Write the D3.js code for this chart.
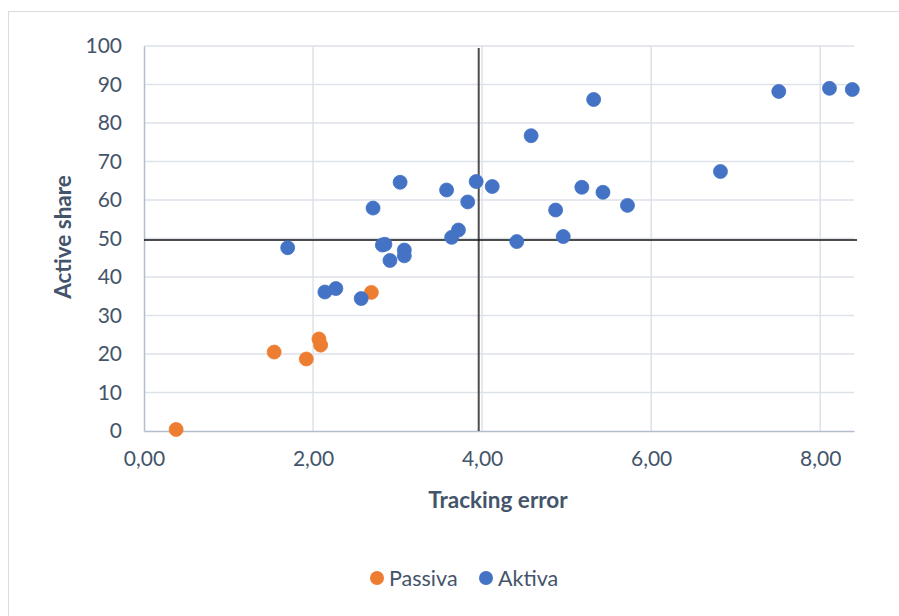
<!DOCTYPE html>
<html>
<head>
<meta charset="utf-8">
<script src="https://cdn.jsdelivr.net/npm/d3@7"></script>
<style>
  html, body { margin: 0; padding: 0; background: #fff; }
  svg text { font-family: Lato, "Open Sans", "Liberation Sans", sans-serif; }
</style>
</head>
<body>
<svg id="chart" width="899" height="616"></svg>
<script>
// Passive funds: tracking error (%) vs active share (%)
const passivaX = [0.38, 1.54, 1.92, 2.07, 2.09, 2.69];
const passivaY = [0.4, 20.5, 18.7, 23.9, 22.3, 36.0];

// Active funds
const aktivaX = [1.70, 2.14, 2.27, 2.57, 2.71, 2.82, 2.85, 2.91, 3.03, 3.08, 3.08,
                 3.58, 3.64, 3.72, 3.83, 3.93, 4.12, 4.41, 4.58, 4.87, 4.96, 5.18,
                 5.32, 5.43, 5.72, 6.82, 7.51, 8.11, 8.38];
const aktivaY = [47.6, 36.1, 37.0, 34.4, 57.9, 48.3, 48.5, 44.3, 64.6, 47.0, 45.5,
                 62.6, 50.3, 52.2, 59.5, 64.8, 63.5, 49.2, 76.7, 57.4, 50.5, 63.3,
                 86.1, 62.0, 58.6, 67.4, 88.2, 89.0, 88.7];

// Quadrant reference lines
const refX = 3.96;
const refY = 49.6;

const xTicks = [0, 2, 4, 6, 8];
const yTicks = [0, 10, 20, 30, 40, 50, 60, 70, 80, 90, 100];

const seriesNames = ["Passiva", "Aktiva"];
const seriesColors = ["#ED7D31", "#4472C4"];

const svg = d3.select("#chart");
const plot = { left: 144, top: 46, right: 854, bottom: 431 };

const x = d3.scaleLinear().domain([0, 8.4]).range([plot.left, plot.right]);
const y = d3.scaleLinear().domain([0, 100]).range([plot.bottom, plot.top]);

const textColor = "#44546A";

// chart frame
svg.append("rect")
  .attr("x", 8.5).attr("y", 11.5)
  .attr("width", 1000).attr("height", 1000)
  .attr("fill", "#fff")
  .attr("stroke", "#D9DDE3").attr("stroke-width", 1);

// gridlines
const grid = svg.append("g");
grid.selectAll("line.h").data(yTicks.filter(d => d > 0)).join("line")
  .attr("x1", plot.left).attr("x2", plot.right)
  .attr("y1", d => y(d)).attr("y2", d => y(d))
  .attr("stroke", "#DDE1E8").attr("stroke-width", 1.5);
grid.selectAll("line.v").data(xTicks.filter(d => d > 0)).join("line")
  .attr("y1", plot.top).attr("y2", plot.bottom)
  .attr("x1", d => x(d)).attr("x2", d => x(d))
  .attr("stroke", "#DDE1E8").attr("stroke-width", 1.5);

// axes
const xAxis = d3.axisBottom(x).tickValues(xTicks).tickSize(0).tickPadding(20)
  .tickFormat(d => d3.format(".2f")(d).replace(".", ","));
const yAxis = d3.axisLeft(y).tickValues(yTicks).tickSize(0).tickPadding(22);

const gx = svg.append("g").attr("transform", `translate(0,${plot.bottom})`).call(xAxis);
const gy = svg.append("g").attr("transform", `translate(${plot.left},0)`).call(yAxis);
[gx, gy].forEach(g => {
  g.select(".domain").attr("stroke", "#B4BDCB").attr("stroke-width", 1.5);
  g.selectAll("text").attr("fill", textColor).attr("font-size", 21);
});

// reference lines
svg.append("line")
  .attr("x1", x(refX)).attr("x2", x(refX))
  .attr("y1", plot.top + 2).attr("y2", plot.bottom)
  .attr("stroke", "#4D4D4D").attr("stroke-width", 2);
svg.append("line")
  .attr("x1", plot.left).attr("x2", plot.right + 3)
  .attr("y1", y(refY)).attr("y2", y(refY))
  .attr("stroke", "#111").attr("stroke-width", 1.5);

// points
const series = [
  { xs: passivaX, ys: passivaY, color: seriesColors[0] },
  { xs: aktivaX, ys: aktivaY, color: seriesColors[1] }
];
series.forEach(s => {
  svg.append("g").selectAll("circle")
    .data(s.xs.map((v, i) => [v, s.ys[i]]))
    .join("circle")
    .attr("cx", d => x(d[0])).attr("cy", d => y(d[1]))
    .attr("r", 7)
    .attr("fill", s.color)
    .attr("stroke", s.color).attr("stroke-width", 0.8);
});

// axis titles
svg.append("text")
  .attr("x", 498).attr("y", 508)
  .attr("text-anchor", "middle")
  .attr("font-size", 22.5).attr("font-weight", "bold")
  .attr("fill", textColor)
  .text("Tracking error");
svg.append("text")
  .attr("transform", "translate(71,237) rotate(-90)")
  .attr("text-anchor", "middle")
  .attr("font-size", 22.5).attr("font-weight", "bold")
  .attr("fill", textColor)
  .text("Active share");

// legend
const legend = svg.append("g");
const legendX = [377, 486];
seriesNames.forEach((name, i) => {
  legend.append("circle")
    .attr("cx", legendX[i]).attr("cy", 578).attr("r", 7)
    .attr("fill", seriesColors[i]);
  legend.append("text")
    .attr("x", legendX[i] + 12).attr("y", 585.5)
    .attr("font-size", 21.5)
    .attr("fill", textColor)
    .text(name);
});
</script>
</body>
</html>
